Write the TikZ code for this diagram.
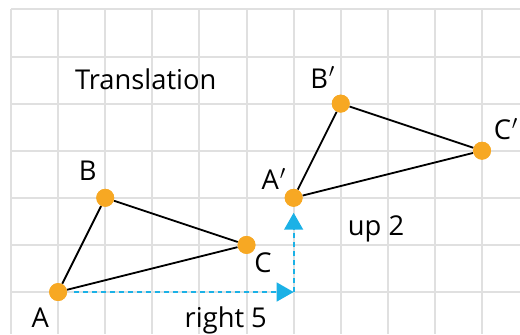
\documentclass[tikz,border=0pt]{standalone}
\usepackage{fontspec}
\setmainfont{Open Sans}
\newcommand{\pr}{\kern0.03em$'$}
\usetikzlibrary{arrows.meta}
\definecolor{gridgray}{HTML}{E0E0E0}
\definecolor{dotorange}{HTML}{F7A823}
\definecolor{movecyan}{HTML}{1BB1E6}
\begin{document}
\begin{tikzpicture}[font=\fontsize{16.5}{19}\selectfont]
\tikzstyle{every node}+=[inner sep=0pt]
\tikzstyle{vertex}=[circle,fill=dotorange,minimum size=0.38cm]
\tikzstyle{edge}=[black,line width=1.1pt]
\tikzstyle{move}=[movecyan,line width=1.2pt,dash pattern=on 3pt off 2.4pt,-{Triangle[length=0.36cm,width=0.4cm]}]
\tikzstyle{tag}=[anchor=base]
\useasboundingbox (-0.234,-0.892) rectangle (10.806,6.2);
\draw [gridgray,line width=1.2pt] (0,-0.892) grid (10.806,6);
% translation arrows
\coordinate (corner) at (6,0);
\node [vertex] (A) at (1,0) {};
\node [vertex] (Ap) at (6,2) {};
\draw [move,shorten <=0.15cm] (A) -- (corner);
\draw [move,shorten >=0.12cm] (corner) -- (Ap);
% triangles
\node [vertex] (B) at (2,2) {};
\node [vertex] (C) at (5,1) {};
\node [vertex] (Bp) at (7,4) {};
\node [vertex] (Cp) at (10,3) {};
\draw [edge] (A) -- (B) -- (C) -- (A);
\draw [edge] (Ap) -- (Bp) -- (Cp) -- (Ap);
\node [vertex] at (A) {};
\node [vertex] at (B) {};
\node [vertex] at (C) {};
\node [vertex] at (Ap) {};
\node [vertex] at (Bp) {};
\node [vertex] at (Cp) {};
% labels
\node [tag] (labA) at (0.62,-0.743) {A};
\node [tag] (labB) at (1.63,2.36) {B};
\node [tag] (labC) at (5.35,0.42) {C};
\node [tag] (labAp) at (5.58,2.17) {A\pr};
\node [tag] (labBp) at (6.62,4.33) {B\pr};
\node [tag] (labCp) at (10.51,3.23) {C\pr};
\node [tag] (title) at (2.86,4.29) {Translation};
\node [tag] (right) at (4.56,-0.743) {right 5};
\node [tag] (up) at (7.75,1.21) {up 2};
\end{tikzpicture}
\end{document}
